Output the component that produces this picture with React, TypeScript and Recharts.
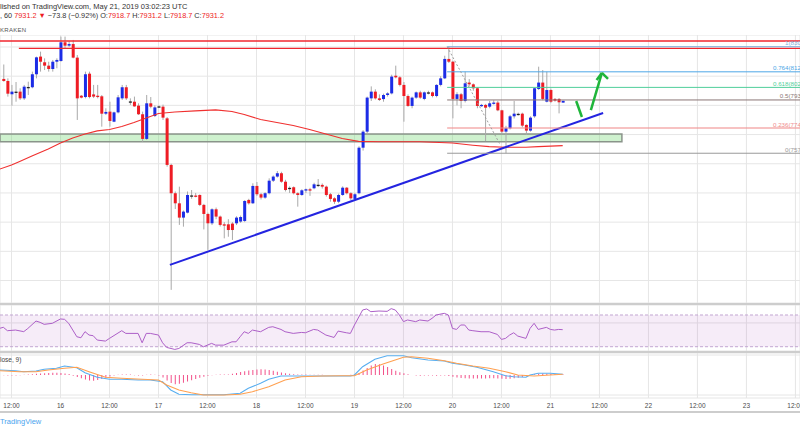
import React from 'react';
import { ComposedChart, Bar, Line, XAxis, YAxis, CartesianGrid, ReferenceLine, ReferenceArea } from 'recharts';

// hourly candles, first one is 15 May 10:00 (hour 0 = 15 May 12:00)
const firstHour = -2;

const opens = [
  8081, 8067, 7976, 7994, 7994, 7948, 8026, 8024, 8113, 8234, 8195, 8172, 8149, 8199, 8204, 8332, 8309, 8320, 8227, 7966,
  7957, 8117, 7975, 7966, 7962, 7843, 7857, 7788, 7852, 7948, 8024, 7927, 7925, 7898, 7839, 7670, 7914, 7827, 7893, 7891,
  7811, 7492, 7298, 7229, 7131, 7165, 7283, 7282, 7286, 7218, 7156, 7092, 7188, 7138, 7085, 7085, 7090, 7092, 7104, 7108,
  7252, 7229, 7348, 7291, 7268, 7298, 7384, 7412, 7435, 7377, 7335, 7339, 7298, 7286, 7318, 7325, 7332, 7356, 7355, 7343,
  7291, 7263, 7240, 7286, 7336, 7298, 7259, 7298, 7610, 7720, 7948, 7994, 7948, 7943, 7971, 7982, 8103, 8092, 8040, 7964,
  7896, 7953, 7989, 7944, 7989, 7989, 7964, 8040, 8085, 8218, 8199, 7944, 7976, 7930, 8056, 8044, 8017, 7896, 7903, 7891,
  7914, 7919, 7866, 7720, 7743, 7825, 7842, 7843, 7766, 7727, 7825, 8012, 8056, 7925, 8005, 7944, 7944, 7918.7,
];
const highs = [
  8180, 8085, 8040, 8060, 8017, 8040, 8062, 8131, 8234, 8268, 8222, 8199, 8211, 8222, 8371, 8371, 8340, 8348, 8245, 7971,
  8131, 8131, 8040, 8040, 7971, 7880, 7925, 7857, 7971, 8040, 8040, 7948, 7960, 7914, 7857, 7971, 7957, 7900, 7900, 7905,
  7820, 7500, 7310, 7343, 7180, 7310, 7320, 7300, 7290, 7225, 7165, 7195, 7200, 7145, 7100, 7120, 7100, 7140, 7145, 7250,
  7260, 7366, 7375, 7300, 7305, 7400, 7420, 7450, 7445, 7390, 7345, 7345, 7305, 7325, 7330, 7335, 7370, 7395, 7365, 7350,
  7300, 7270, 7295, 7345, 7340, 7305, 7300, 7620, 7730, 7960, 8030, 8010, 7975, 7980, 7990, 8110, 8172, 8100, 8060, 7975,
  7960, 7995, 8000, 7995, 8000, 7995, 8045, 8100, 8240, 8302, 8205, 7990, 7985, 8131, 8080, 8050, 8025, 7910, 7910, 7930,
  7935, 7930, 7870, 7760, 7835, 7930, 7850, 7850, 7770, 7825, 8020, 8165, 8142, 8130, 8015, 7950, 7950, 7931.2,
];
const lows = [
  8062, 7960, 7898, 7925, 7937, 7937, 7971, 8017, 8085, 8131, 8142, 8131, 8131, 8154, 8199, 8291, 8300, 8222, 7800, 7948,
  7948, 7948, 7950, 7948, 7754, 7834, 7754, 7785, 7845, 7937, 7937, 7903, 7891, 7834, 7651, 7663, 7880, 7820, 7885, 7800,
  7480, 6636, 7190, 7081, 7069, 7160, 7260, 7270, 7210, 7050, 6910, 7080, 7120, 7070, 6989, 7000, 6978, 7080, 7095, 7100,
  7220, 7225, 7280, 7255, 7260, 7290, 7375, 7405, 7370, 7310, 7300, 7290, 7206, 7280, 7300, 7280, 7325, 7340, 7330, 7275,
  7240, 7225, 7230, 7280, 7290, 7250, 7250, 7290, 7590, 7700, 7930, 7940, 7930, 7925, 7960, 7975, 8085, 8030, 7788, 7890,
  7880, 7945, 7945, 7935, 7975, 7955, 7955, 8030, 8080, 8190, 7811, 7900, 7880, 7920, 8030, 8000, 7880, 7890, 7655, 7880,
  7905, 7860, 7700, 7572, 7735, 7810, 7830, 7750, 7697, 7720, 7815, 8005, 7935, 7920, 7915, 7925, 7845, 7918.7,
];
const closes = [
  8067, 7980, 7994, 7994, 7948, 8028, 8026, 8113, 8229, 8199, 8172, 8149, 8199, 8211, 8332, 8309, 8320, 8227, 7948, 7953,
  8113, 7957, 7960, 7957, 7843, 7855, 7793, 7852, 7955, 8024, 7948, 7927, 7893, 7839, 7670, 7914, 7891, 7886, 7893, 7816,
  7492, 7298, 7229, 7131, 7172, 7286, 7283, 7276, 7218, 7156, 7092, 7188, 7138, 7081, 7076, 7046, 7046, 7131, 7135, 7245,
  7229, 7348, 7291, 7268, 7298, 7384, 7412, 7435, 7377, 7320, 7335, 7298, 7286, 7318, 7325, 7320, 7359, 7356, 7343, 7286,
  7259, 7240, 7286, 7336, 7298, 7263, 7291, 7610, 7720, 7953, 7994, 7948, 7937, 7971, 7982, 8097, 8092, 8040, 7964, 7896,
  7953, 7989, 7953, 7989, 7989, 7964, 8040, 8085, 8218, 8199, 7944, 7976, 7930, 8051, 8044, 8017, 7896, 7903, 7884, 7914,
  7919, 7866, 7720, 7743, 7825, 7843, 7842, 7761, 7727, 7816, 8017, 8056, 7944, 8005, 7925, 7932, 7921, 7931.2,
];

// 100 MA
const maHours = [-3, 0, 2, 5, 9, 12, 15, 18, 21, 24, 27, 30, 33, 36, 40, 45, 50, 54, 57, 61, 65, 69, 73, 77, 81, 85, 90, 100, 108, 113, 117, 121, 126, 129, 135];
const maValues = [7462, 7492, 7516, 7553, 7601, 7642, 7677, 7704, 7725, 7735, 7755, 7783, 7814, 7844, 7855, 7862, 7869, 7858, 7838, 7803, 7783, 7762, 7735, 7704, 7673, 7653, 7651, 7651, 7642, 7627, 7617, 7613, 7613, 7617, 7624];

// RSI
const rsiHours = [-3, -2, -1, 1, 3, 4, 6, 7, 8, 10, 12, 13, 14, 16, 17, 18, 19, 20, 21, 23, 24, 27, 28, 31, 32, 33, 34, 36, 37, 38, 40, 41, 43, 44, 46, 47, 49, 50, 52, 54, 55, 56, 57, 58, 59, 61, 63, 64, 66, 67, 69, 71, 72, 74, 75, 77, 79, 80, 82, 83, 84, 86, 87, 88, 90, 92, 93, 94, 95, 96, 97, 99, 100, 102, 103, 104, 106, 107, 108, 109, 110, 111, 112, 113, 115, 117, 119, 120, 121, 122, 123, 124, 126, 127, 128, 129, 131, 132, 133, 134, 135];
const rsiValues = [53, 54.5, 50.2, 51, 49, 53, 62.4, 60.7, 58.2, 59.5, 65, 64.5, 59.5, 42.6, 41.3, 49, 44.7, 43.9, 38.4, 37.1, 40.5, 50.2, 46.8, 46.8, 35, 46.8, 46.8, 44.7, 35, 29.1, 26.6, 27.8, 35, 35, 32.9, 29.9, 34.2, 32, 32, 36.2, 36.2, 42.6, 48.9, 46.8, 51, 48.9, 54.4, 55.2, 51.8, 48.9, 46.8, 48, 47.6, 51.8, 51, 44.7, 41.7, 49.7, 47.6, 46.8, 57.4, 76.3, 77.6, 74.2, 75, 74.6, 78, 76.3, 70, 61.6, 63.7, 61.6, 63.7, 62.4, 65.8, 70, 72.1, 70, 53.1, 51.8, 57.4, 57.4, 51, 50.2, 48.9, 48.9, 45.5, 39.2, 40.5, 44.7, 47.6, 43.4, 40.5, 53.1, 59.5, 51.8, 54.4, 51.8, 51, 51.8, 51.5];

// MACD (12, 26, close, 9)
const macdHours = [-3, 1, 3, 6, 8, 11, 13, 16, 18, 21, 24, 27, 31, 34, 37, 39, 41, 44, 48, 52, 56, 58, 61, 63, 66, 72, 79, 83, 84, 86, 89, 92, 96, 98, 102, 106, 108, 111, 114, 118, 121, 123, 126, 127, 129, 132, 135];
const macdValues = [50, 43, 33, 40, 57, 67, 90, 73, 23, -23, -43, -43, -50, -50, -67, -150, -193, -197, -197, -197, -183, -133, -83, -43, -10, -10, -10, -10, 0, 83, 157, 193, 193, 173, 150, 140, 117, 100, 77, 33, -7, -17, -23, 0, 17, 17, 7];
const signalHours = [-3, 2, 6, 9, 13, 16, 19, 23, 27, 32, 36, 38, 41, 44, 47, 52, 56, 59, 63, 67, 71, 76, 81, 84, 87, 91, 96, 98, 102, 106, 109, 113, 117, 121, 124, 128, 132, 135];
const signalValues = [43, 33, 33, 50, 67, 77, 33, -23, -33, -43, -50, -100, -150, -177, -200, -200, -193, -167, -117, -50, -17, -10, -7, -7, 50, 110, 177, 183, 167, 143, 117, 90, 67, 33, 0, -10, 0, 7];
const histValues = [
  -3, -4, -5, -4, -3, 2, 5, 8, 12, 15, 18, 20, 22, 22, 20, 16, 10, -8, -20, -32,
  -45, -55, -57, -50, -40, -28, -15, -6, 3, 6, 6, 4, -3, -5, -4, 2, 4, 3, -5, -25,
  -55, -80, -92, -88, -78, -65, -52, -40, -28, -18, -8, -2, 3, 5, 4, 6, 12, 20, 30, 38,
  45, 50, 55, 57, 55, 50, 42, 33, 25, 18, 12, 8, 6, 5, 4, 3, 3, 2, 2, 1,
  0, -1, -1, 0, 1, 2, 5, 20, 45, 70, 95, 110, 108, 95, 80, 60, 42, 28, 18, 8,
  0, -5, -8, -6, -4, -6, -8, -6, -4, -10, -18, -25, -30, -33, -35, -36, -36, -35, -34, -33,
  -32, -34, -38, -40, -38, -33, -27, -20, -12, 0, 8, 12, 14, 12, 10, 8, 6, 4,
];

// axes
const hourDomain = [-2.817, 193.12];
const timeTicks = [0, 12, 24, 36, 48, 60, 72, 84, 96, 108, 120, 132, 144, 156, 168, 180, 192];
const timeLabels = ['12:00', '16', '12:00', '17', '12:00', '18', '12:00', '19', '12:00', '20', '12:00', '21', '12:00', '22', '12:00', '23', '12:00'];
const priceTicks = [6600, 6700, 6800, 6900, 7000, 7100, 7200, 7300, 7400, 7500, 7600, 7700, 7800, 7900, 8000, 8100, 8200, 8300];

// drawings
const resistanceTop = 8341;
const resistanceLow = 8291;
const resistanceLowFrom = 1.8;
const supportLow = 7651;
const supportHigh = 7704;
const supportEnd = 149.5;
const trendFrom = { hour: 38.8, price: 6807 };
const trendTo = { hour: 144.9, price: 7848 };
const fibHigh = 8302;
const fibLow = 7572;
const fibFrom = 106.7;
const fibDiagonalEnd = { hour: 119.7, price: 7630 };
const fibRatios = [1, 0.764, 0.618, 0.5, 0.236, 0];
const arrowDown = [{ hour: 138.3, price: 7930 }, { hour: 139.7, price: 7820 }];
const arrowUp = [{ hour: 141.9, price: 7868 }, { hour: 144.6, price: 8122 }];
const arrowHeadLeft = { hour: 143.3, price: 8074 };
const arrowHeadRight = { hour: 146.1, price: 8081 };

const BLUE = '#1c2ce6';
const RED = '#ee1c24';
const GRID = '#e6e6e6';
const fibColors = ['#7fb0dc', '#4ea6e6', '#4fcf9a', '#8a7676', '#f08c8c', '#9a9a9a'];

const candles = opens.map((o, i) => ({ hour: firstHour + i, open: o, high: highs[i], low: lows[i], close: closes[i] }));
const histData = histValues.map((v, i) => ({ hour: firstHour + i, hist: v }));
const toPoints = (hours: number[], values: number[]) => hours.map((h, i) => ({ hour: h, value: values[i] }));
const maData = toPoints(maHours, maValues);
const rsiData = toPoints(rsiHours, rsiValues);
const macdData = toPoints(macdHours, macdValues);
const signalData = toPoints(signalHours, signalValues);

const Candle = (props: any) => {
  const { x, y, width, height, payload } = props;
  if (!payload || x == null) return null;
  const top = Math.min(y, y + height);
  const span = Math.abs(height);
  const k = payload.high > payload.low ? span / (payload.high - payload.low) : 0;
  const bodyTop = top + (payload.high - Math.max(payload.open, payload.close)) * k;
  const bodyH = Math.max(1.3, Math.abs(payload.open - payload.close) * k);
  const color = payload.open === payload.close ? '#222' : payload.close > payload.open ? BLUE : RED;
  const cx = x + width / 2;
  return (
    <g>
      <line x1={cx} x2={cx} y1={top} y2={top + span} stroke="#a9a9a9" strokeWidth={1} />
      <rect x={x} y={bodyTop} width={width} height={bodyH} fill={color} />
    </g>
  );
};

const fibLabel = (text: string, color: string) => (p: any) => {
  const vb = p.viewBox || {};
  return (
    <text x={vb.x + vb.width + 11.5} y={vb.y - 1.5} textAnchor="end" fontSize={6.2} fill={color}>
      {text}
    </text>
  );
};

const noMargin = { top: 0, right: 0, bottom: 0, left: 0 };
const seg = (a: { hour: number; price: number }, b: { hour: number; price: number }) => [
  { x: a.hour, y: a.price },
  { x: b.hour, y: b.price },
];

const HourAxis = (props: any) => (
  <XAxis
    type="number"
    dataKey="hour"
    domain={hourDomain}
    ticks={timeTicks}
    allowDataOverflow
    {...props}
  />
);

export default function App() {
  const sep = (top: number) => (
    <div style={{ position: 'absolute', left: 0, top, width: 800, height: 2, background: '#cdcdcd' }} />
  );
  return (
    <div
      style={{
        position: 'absolute',
        left: 0,
        top: 0,
        width: 800,
        height: 430,
        overflow: 'hidden',
        background: '#fff',
        fontFamily: "'Liberation Sans', Arial, sans-serif",
      }}
    >
      <div style={{ position: 'absolute', left: 0, top: 2, fontSize: 7.5, color: '#333', whiteSpace: 'nowrap' }}>
        lished on TradingView.com, May 21, 2019 03:02:23 UTC
      </div>
      <div style={{ position: 'absolute', left: 0, top: 11, fontSize: 7.3, color: '#333', whiteSpace: 'nowrap' }}>
        , 60 <span style={{ color: RED }}>7931.2</span> <span style={{ color: RED }}>▼</span> −73.8 (−0.92%){' '}
        O:<span style={{ color: RED }}>7918.7</span> H:<span style={{ color: RED }}>7931.2</span> L:
        <span style={{ color: RED }}>7918.7</span> C:<span style={{ color: RED }}>7931.2</span>
      </div>

      <div style={{ position: 'absolute', left: 0, top: 35 }}>
        <ComposedChart width={800} height={268} data={candles} margin={noMargin}>
          <CartesianGrid stroke={GRID} />
          <HourAxis hide />
          <YAxis hide domain={[6546, 8382]} ticks={priceTicks} allowDataOverflow />
          <ReferenceLine y={resistanceTop} stroke="#f0262e" strokeWidth={1.3} />
          <ReferenceLine
            segment={[{ x: resistanceLowFrom, y: resistanceLow }, { x: hourDomain[1], y: resistanceLow }]}
            stroke="#f0262e"
            strokeWidth={1.3}
          />
          <ReferenceArea
            x1={hourDomain[0]}
            x2={supportEnd}
            y1={supportLow}
            y2={supportHigh}
            fill="#74d872"
            fillOpacity={0.35}
            stroke="#8a948a"
            strokeWidth={1.5}
          />
          <Bar dataKey={(d: any) => [d.low, d.high]} barSize={3} shape={Candle} isAnimationActive={false} />
          <Line data={maData} dataKey="value" stroke="#f0302f" strokeWidth={1.1} dot={false} isAnimationActive={false} />
          <ReferenceLine segment={seg(trendFrom, trendTo)} stroke="#2424e0" strokeWidth={2} />
          {fibRatios.map((r, i) => {
            const price = fibLow + r * (fibHigh - fibLow);
            return (
              <ReferenceLine
                key={r}
                segment={[{ x: fibFrom, y: price }, { x: hourDomain[1], y: price }]}
                stroke={fibColors[i]}
                strokeWidth={r === 0.236 ? 1.5 : 1}
                strokeOpacity={r === 0.236 ? 0.7 : 1}
                label={fibLabel(`${r}(${price.toFixed(1)})`, fibColors[i])}
              />
            );
          })}
          <ReferenceLine
            segment={seg({ hour: fibFrom, price: fibHigh }, fibDiagonalEnd)}
            stroke="#9e9e9e"
            strokeDasharray="2 2"
          />
          <ReferenceLine segment={seg(arrowDown[0], arrowDown[1])} stroke="#1fb53a" strokeWidth={2.5} />
          <ReferenceLine segment={seg(arrowUp[0], arrowUp[1])} stroke="#1fb53a" strokeWidth={2.5} />
          <ReferenceLine segment={seg(arrowHeadLeft, arrowUp[1])} stroke="#1fb53a" strokeWidth={2.5} />
          <ReferenceLine segment={seg(arrowUp[1], arrowHeadRight)} stroke="#1fb53a" strokeWidth={2.5} />
        </ComposedChart>
      </div>
      <div style={{ position: 'absolute', left: 0, top: 27, fontSize: 6, color: '#555', letterSpacing: 0.3 }}>KRAKEN</div>
      {sep(303)}

      <div style={{ position: 'absolute', left: 0, top: 305 }}>
        <ComposedChart width={800} height={46} data={rsiData} margin={noMargin}>
          <CartesianGrid stroke={GRID} />
          <HourAxis hide />
          <YAxis hide domain={[24.6, 82.6]} ticks={[40, 60]} allowDataOverflow />
          <ReferenceArea y1={30} y2={70} fill="#9c27b0" fillOpacity={0.09} stroke="none" />
          <ReferenceLine y={70} stroke="#c2a6d2" strokeDasharray="3 2" />
          <ReferenceLine y={30} stroke="#c2a6d2" strokeDasharray="3 2" />
          <Line dataKey="value" stroke="#ad5fc8" strokeWidth={1} dot={false} isAnimationActive={false} />
        </ComposedChart>
      </div>
      {sep(351)}

      <div style={{ position: 'absolute', left: 0, top: 353 }}>
        <ComposedChart width={800} height={58} data={histData} margin={noMargin}>
          <CartesianGrid stroke={GRID} />
          <HourAxis
            height={13}
            interval={0}
            axisLine={false}
            tickLine={false}
            tickSize={3}
            tickMargin={2}
            tick={{ fontSize: 6.5, fill: '#4a4a4a' }}
            tickFormatter={(v: number) => timeLabels[timeTicks.indexOf(v)]}
          />
          <YAxis hide domain={[-230, 220]} ticks={[-200, 0, 200]} allowDataOverflow />
          <Bar dataKey="hist" barSize={1} fill="#f2508a" fillOpacity={1} isAnimationActive={false} />
          <Line data={macdData} dataKey="value" stroke="#58aef0" strokeWidth={1.1} dot={false} isAnimationActive={false} />
          <Line data={signalData} dataKey="value" stroke="#ffa050" strokeWidth={1.1} dot={false} isAnimationActive={false} />
        </ComposedChart>
      </div>
      <div style={{ position: 'absolute', left: 0, top: 356, fontSize: 6.5, color: '#444' }}>lose, 9)</div>
      {sep(411)}
      <div style={{ position: 'absolute', left: 0, top: 417, fontSize: 7.5, color: '#4aa3ee' }}>TradingView</div>
    </div>
  );
}
